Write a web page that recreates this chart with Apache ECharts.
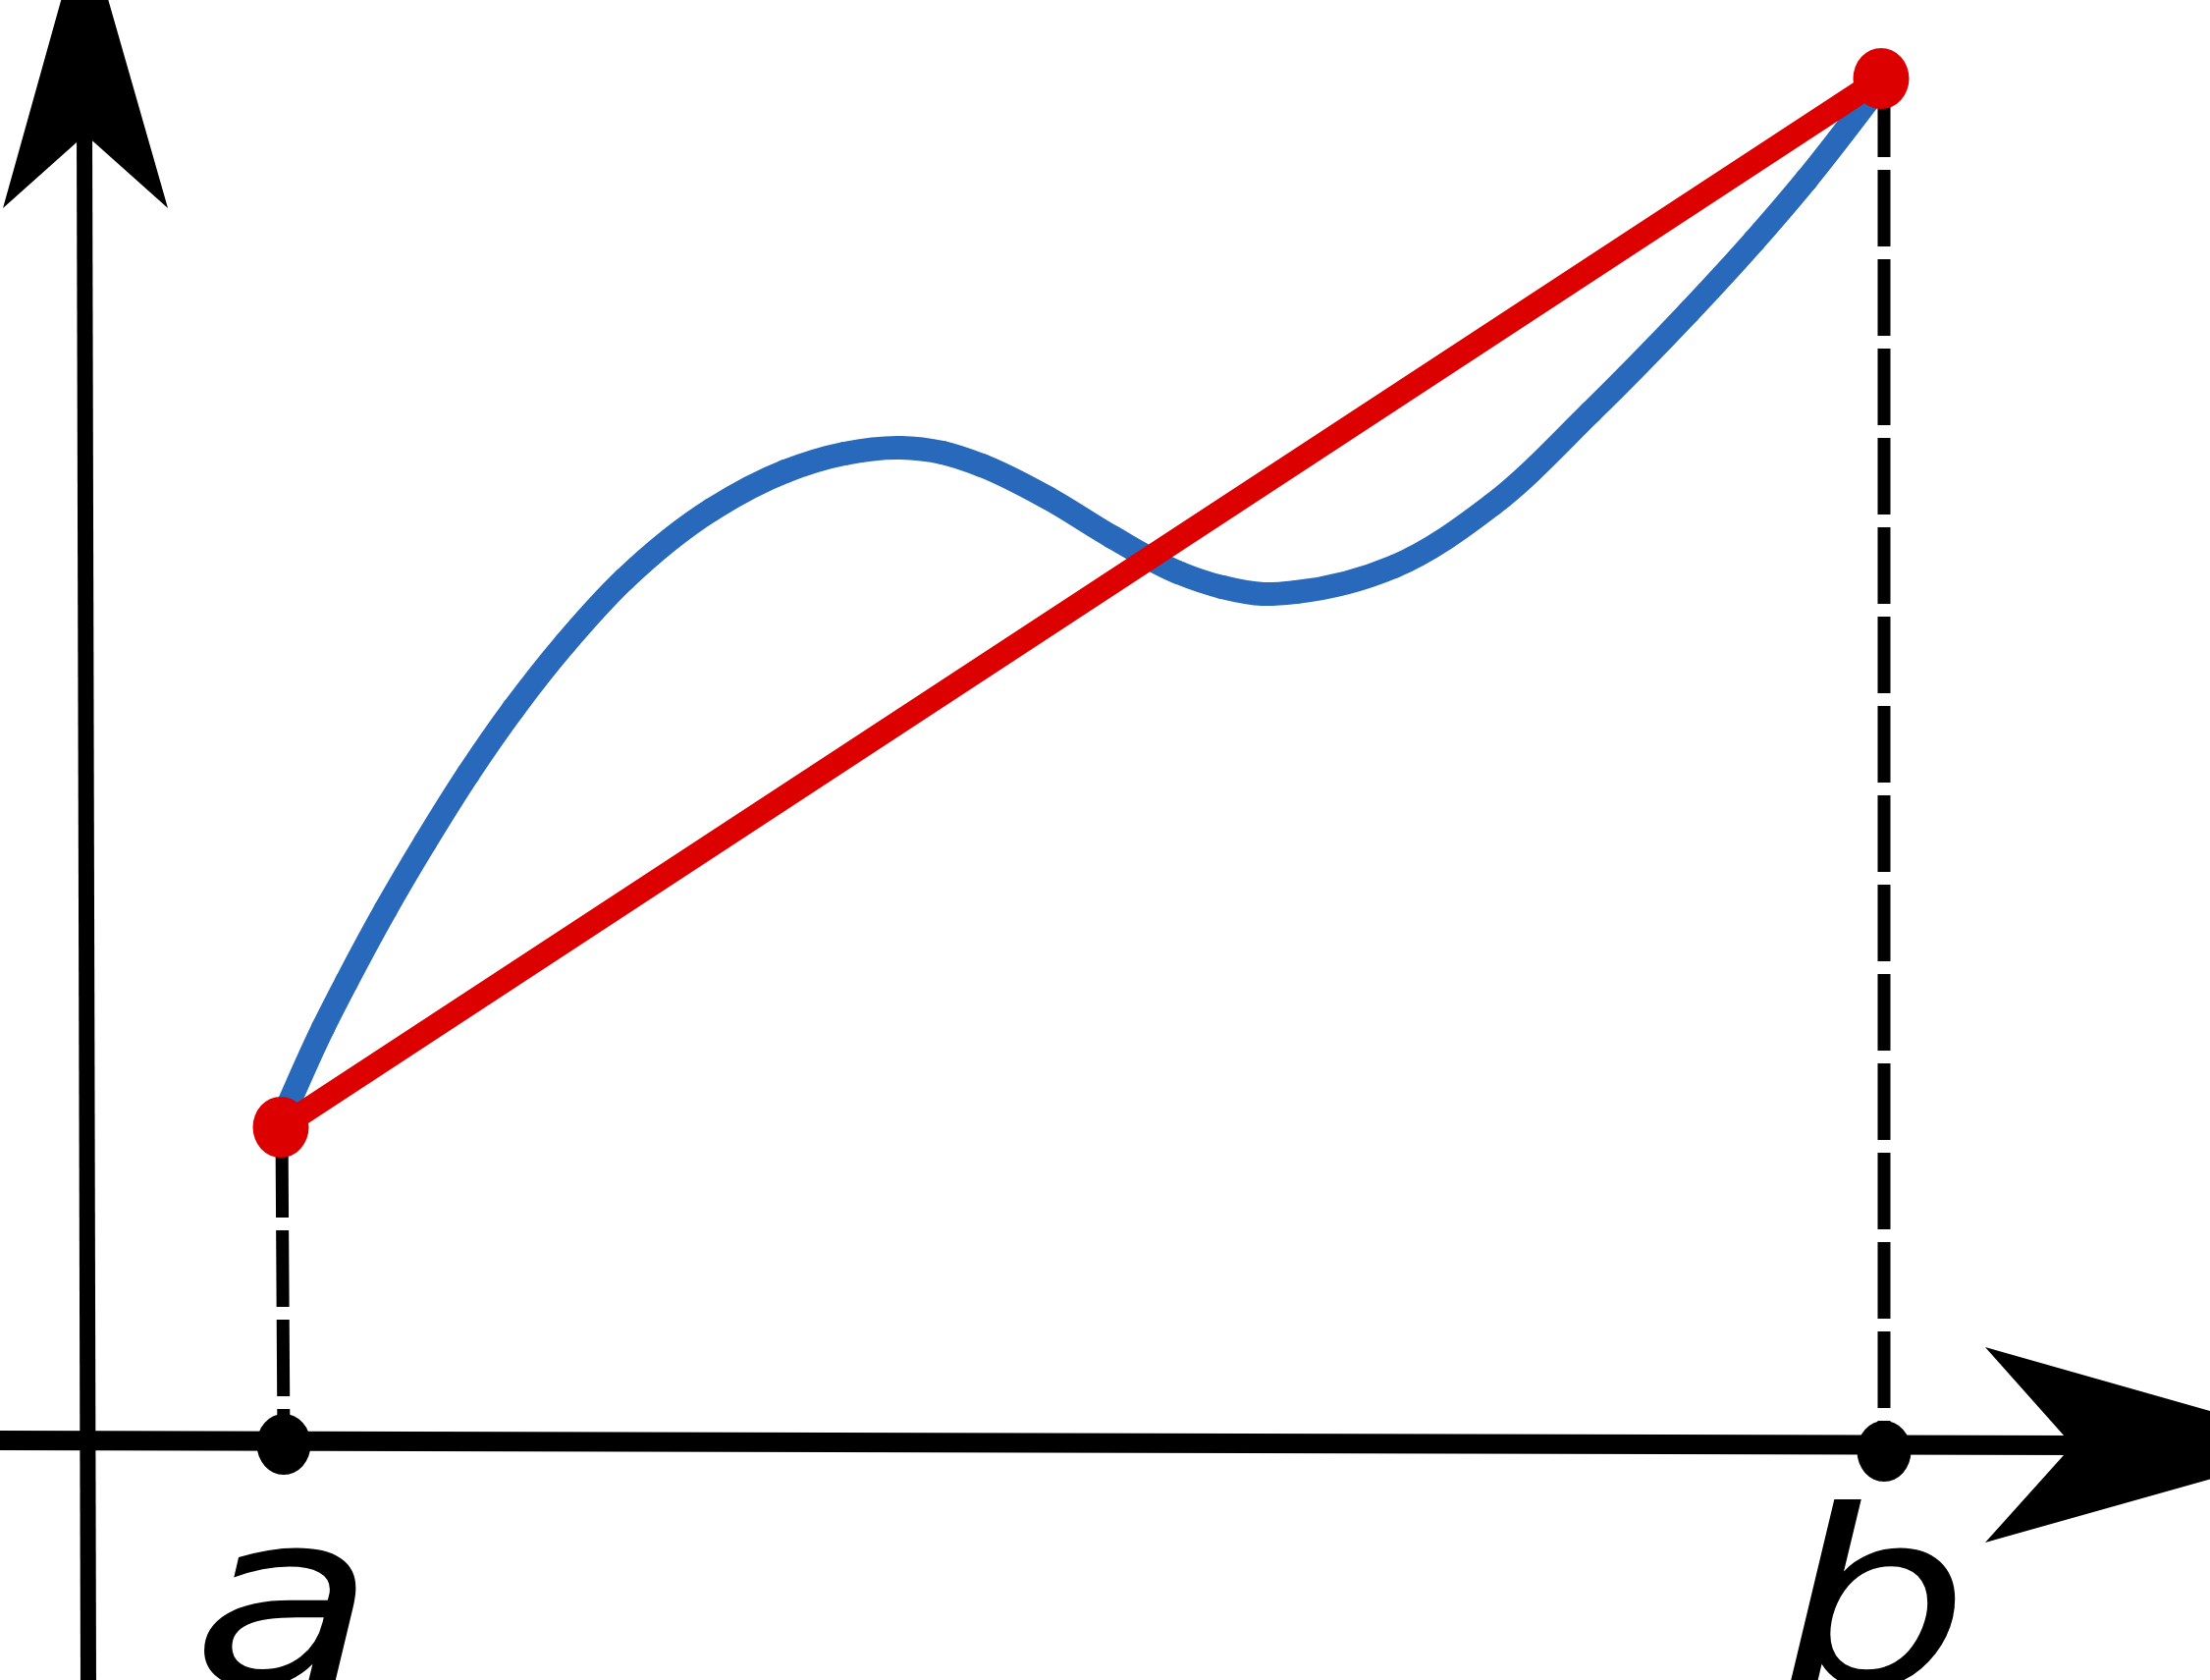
<!DOCTYPE html>
<html>
<head>
<meta charset="utf-8">
<script src="https://cdn.jsdelivr.net/npm/echarts@6.0.0/dist/echarts.min.js"></script>
<style>
  html, body { margin: 0; padding: 0; background: #fff; }
  #chart { width: 2251px; height: 1711px; }
</style>
</head>
<body>
<div id="chart"></div>
<script>
// 图表实例
var myChart = echarts.init(document.getElementById('chart'));

// 曲线 f(x)（蓝色）
const curveX = [1.99, 2.42, 2.66, 3.06, 3.46, 3.90, 4.36, 4.89, 5.49, 6.38, 7.13, 7.73, 8.30,
                8.73, 9.13, 9.80, 10.46, 11.13, 11.58, 12.00, 12.33, 13.33, 14.33, 15.33,
                16.33, 17.00, 17.53, 18.27];
const curveY = [3.26, 4.21, 4.68, 5.42, 6.10, 6.80, 7.46, 8.13, 8.78, 9.49, 9.88, 10.06, 10.12,
                10.07, 9.94, 9.61, 9.21, 8.85, 8.70, 8.63, 8.65, 8.91, 9.54, 10.48,
                11.50, 12.23, 12.85, 13.80];

// 割线端点（红色）
const chordX = [1.99, 18.29];
const chordY = [3.20, 13.88];

// x 轴上的 a、b 两点
const tickNames = ['a', 'b'];
const tickX = [2.02, 18.32];
const tickY = [-0.03, -0.10];

// 虚线（从轴上的点到曲线端点）
const dashAX = [2.02, 2.00];
const dashAY = [-0.03, 3.20];
const dashBX = [18.32, 18.32];
const dashBY = [-0.10, 13.88];

// 坐标轴
const xAxisX = [-0.87, 20.30];
const xAxisY = [0.01, -0.04];
const yAxisX = [0.03, -0.01];
const yAxisY = [-2.43, 13.40];

// 箭头（尖端、翼、凹口、翼）
const arrowUp = [[-0.01, 15.53], [-0.84, 12.56], [0.00, 13.31], [0.84, 12.56]];
const arrowRight = [[22.87, -0.04], [19.35, 0.96], [20.24, -0.04], [19.35, -1.03]];

function zip(xs, ys) {
    return xs.map((x, i) => [x, ys[i]]);
}

// 标签相对于点的像素偏移
const labelOffsets = [[0, 180], [-10, 173]];

// 平滑曲线：每个数据点画到下一个点的一段贝塞尔曲线
function curveSegment(params, api) {
    const i = params.dataIndex;
    const n = curveX.length;
    if (i >= n - 1) return null;
    const pts = curveX.map((x, k) => api.coord([x, curveY[k]]));
    const dist = (p, q) => Math.hypot(q[0] - p[0], q[1] - p[1]);
    function tangent(k) {
        if (k === 0 || k === n - 1) {
            const p = pts[k === 0 ? 0 : n - 2], q = pts[k === 0 ? 1 : n - 1];
            const d = dist(p, q);
            return [(q[0] - p[0]) / d, (q[1] - p[1]) / d];
        }
        const da = dist(pts[k - 1], pts[k]);
        const db = dist(pts[k], pts[k + 1]);
        const tx = (pts[k][0] - pts[k - 1][0]) / da * db + (pts[k + 1][0] - pts[k][0]) / db * da;
        const ty = (pts[k][1] - pts[k - 1][1]) / da * db + (pts[k + 1][1] - pts[k][1]) / db * da;
        const l = Math.hypot(tx, ty);
        return [tx / l, ty / l];
    }
    const p0 = pts[i], p1 = pts[i + 1];
    const d = dist(p0, p1) / 3;
    const t0 = tangent(i), t1 = tangent(i + 1);
    return {
        type: 'bezierCurve',
        shape: {
            x1: p0[0], y1: p0[1], x2: p1[0], y2: p1[1],
            cpx1: p0[0] + t0[0] * d, cpy1: p0[1] + t0[1] * d,
            cpx2: p1[0] - t1[0] * d, cpy2: p1[1] - t1[1] * d
        },
        style: { stroke: '#2969bc', lineWidth: 24, lineCap: 'round', fill: null }
    };
}

const option = {
    backgroundColor: '#ffffff',
    animation: false,
    grid: { left: 0, right: 0, top: 0, bottom: 0 },
    xAxis: { type: 'value', min: -0.87, max: 21.64, show: false },
    yAxis: { type: 'value', min: -2.43, max: 14.68, show: false },
    series: [
        {
            type: 'line', symbol: 'none', z: 1,
            data: zip(dashAX, dashAY),
            lineStyle: { color: '#000', width: 13, type: [78, 13], dashOffset: 42 }
        },
        {
            type: 'line', symbol: 'none', z: 1,
            data: zip(dashBX, dashBY),
            lineStyle: { color: '#000', width: 13, type: [78, 13], dashOffset: 47 }
        },
        {
            type: 'line', symbol: 'none', z: 2,
            data: zip(xAxisX, xAxisY),
            lineStyle: { color: '#000', width: 20 }
        },
        {
            type: 'line', symbol: 'none', z: 2,
            data: zip(yAxisX, yAxisY),
            lineStyle: { color: '#000', width: 16 }
        },
        {
            type: 'custom', z: 2,
            data: [arrowUp, arrowRight].map(a => a[0]),
            renderItem: function (params, api) {
                const shape = [arrowUp, arrowRight][params.dataIndex];
                return {
                    type: 'polygon',
                    shape: { points: shape.map(p => api.coord(p)) },
                    style: { fill: '#000' }
                };
            }
        },
        {
            type: 'custom', z: 3,
            data: zip(curveX, curveY),
            renderItem: curveSegment
        },
        {
            type: 'line', symbol: 'none', z: 4,
            data: zip(chordX, chordY),
            lineStyle: { color: '#dd0000', width: 24 }
        },
        {
            type: 'scatter', z: 5,
            symbol: 'circle', symbolSize: [57, 62],
            data: zip(chordX, chordY),
            itemStyle: { color: '#dd0000', opacity: 1 }
        },
        {
            type: 'scatter', z: 5,
            symbol: 'circle', symbolSize: [55, 62],
            data: zip(tickX, tickY),
            itemStyle: { color: '#000', opacity: 1 }
        },
        {
            // a、b 标签（斜体，略微横向拉伸）
            type: 'custom', z: 6,
            data: zip(tickX, tickY),
            renderItem: function (params, api) {
                const i = params.dataIndex;
                const p = api.coord([api.value(0), api.value(1)]);
                return {
                    type: 'text',
                    x: p[0] + labelOffsets[i][0],
                    y: p[1] + labelOffsets[i][1],
                    scaleX: 1.23,
                    style: {
                        text: tickNames[i],
                        fill: '#000',
                        fontFamily: 'DejaVu Sans',
                        fontStyle: 'italic',
                        fontSize: 248,
                        align: 'center',
                        verticalAlign: 'middle'
                    }
                };
            }
        }
    ]
};

myChart.setOption(option);

window.addEventListener('resize', function () {
    myChart.resize();
});
</script>
</body>
</html>
